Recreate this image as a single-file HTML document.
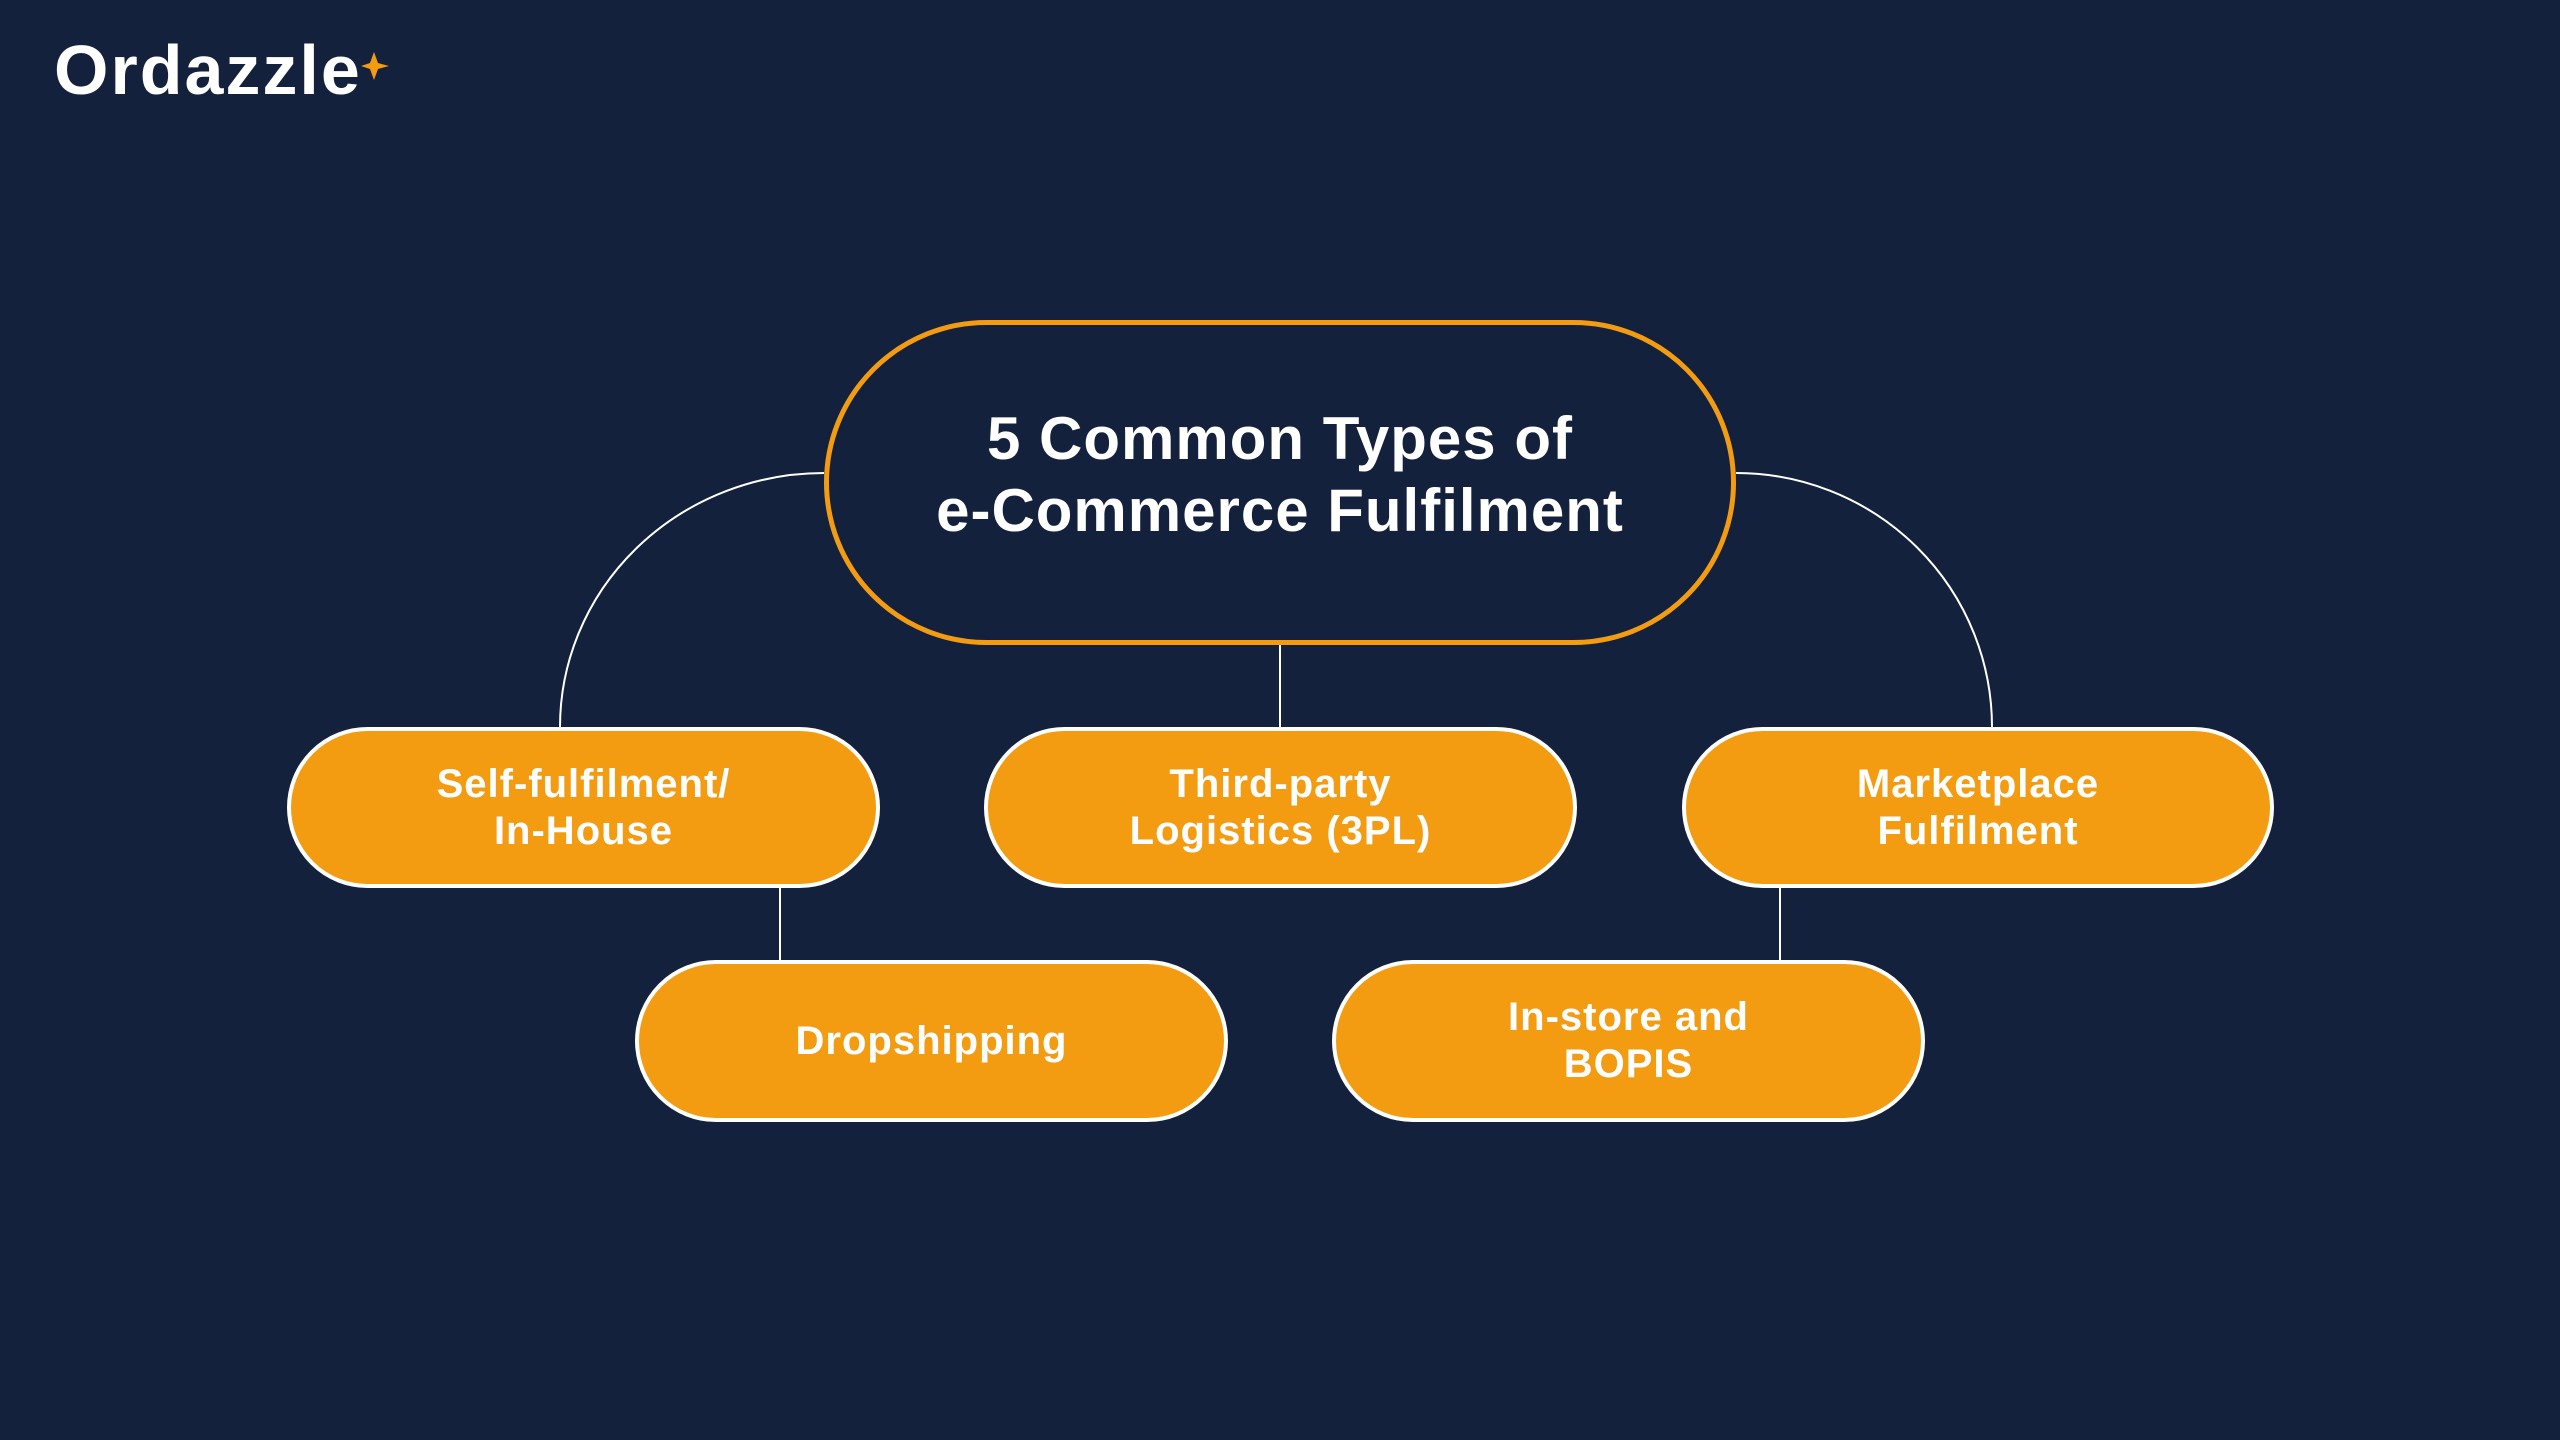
<!DOCTYPE html>
<html><head><meta charset="utf-8"><style>
html,body{margin:0;padding:0;}
body{width:2560px;height:1440px;background:#14213d;position:relative;overflow:hidden;font-family:"Liberation Sans",sans-serif;}
.pill{position:absolute;box-sizing:border-box;background:#f39c12;border:4px solid #fff;border-radius:90px;color:#fff;font-weight:bold;font-size:40px;letter-spacing:1px;line-height:47px;display:flex;align-items:center;justify-content:center;text-align:center;}
.main{position:absolute;left:824px;top:312px;width:912px;height:325px;box-sizing:border-box;color:#fff;font-weight:bold;font-size:60px;letter-spacing:1px;line-height:72px;display:flex;align-items:center;justify-content:center;text-align:center;}
.mainb{position:absolute;left:824px;top:320px;width:912px;height:325px;box-sizing:border-box;border:5px solid #f39c12;border-radius:165px;}
.logo{position:absolute;left:54px;top:30px;color:#fff;font-weight:bold;font-size:70px;letter-spacing:2px;}
</style></head><body>
<div class="logo">Ordazzle</div>
<svg width="2560" height="1440" style="position:absolute;left:0;top:0">
<path d="M374 52 L378 63 L389 66 L378 69 L374 80 L370 69 L361 66 L370 63 Z" fill="#f39c12"/>
<g stroke="#fff" stroke-width="2" fill="none">
<path d="M824 473 A264 254 0 0 0 560 727"/>
<path d="M1736 473 A256 254 0 0 1 1992 727"/>
<line x1="1280" y1="645" x2="1280" y2="727"/>
<line x1="780" y1="888" x2="780" y2="960"/>
<line x1="1780" y1="888" x2="1780" y2="960"/>
</g>
</svg>
<div class="mainb"></div>
<div class="main">5 Common Types of<br>e-Commerce Fulfilment</div>
<div class="pill" style="left:287px;top:727px;width:593px;height:161px">Self-fulfilment/<br>In-House</div>
<div class="pill" style="left:984px;top:727px;width:593px;height:161px">Third-party<br>Logistics (3PL)</div>
<div class="pill" style="left:1682px;top:727px;width:592px;height:161px">Marketplace<br>Fulfilment</div>
<div class="pill" style="left:635px;top:960px;width:593px;height:162px">Dropshipping</div>
<div class="pill" style="left:1332px;top:960px;width:593px;height:162px">In-store and<br>BOPIS</div>
</body></html>
